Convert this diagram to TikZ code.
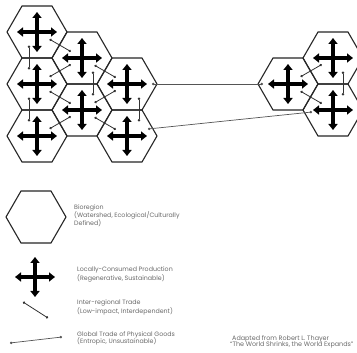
\documentclass[tikz,border=0pt]{standalone}
\usepackage{fontspec}
\setmainfont{Poppins}
\usetikzlibrary{shapes.geometric,arrows.meta,calc}
\definecolor{hexcol}{HTML}{262626}
\definecolor{ircol}{HTML}{333333}
\definecolor{gcol}{HTML}{555555}
\definecolor{txtcol}{HTML}{6A6A6A}
\newcommand\crossat[1]{%
  \draw[crossarm] ($(#1)+(-20,0)$) -- ($(#1)+(20,0)$);
  \draw[crossarm] ($(#1)+(0,-20)$) -- ($(#1)+(0,20)$);}
\begin{document}
\begin{tikzpicture}[x=1pt,y=-1pt,
  hexa/.style={regular polygon, regular polygon sides=6, minimum size=60pt,
    inner sep=0pt, draw=hexcol, line width=1.1pt},
  crossarm/.style={line width=3.3pt, draw=black,
    {Triangle[width=9pt,length=6pt]}-{Triangle[width=9pt,length=6pt]}},
  irline/.style={draw=ircol, line width=0.8pt,
    {Circle[length=2.4pt]}-{Circle[length=2.4pt]}},
  gline/.style={draw=gcol, line width=0.7pt,
    {Circle[length=2.4pt]}-{Circle[length=2.4pt]}},
  lbl/.style={anchor=base west, inner sep=0pt, text=txtcol,
    font=\fontsize{6.3}{7.5}\selectfont},
  credit/.style={anchor=base west, inner sep=0pt, text=txtcol,
    font=\fontsize{6.4}{7.5}\selectfont}]
\fill[white] (0,0) rectangle (357,353);
\useasboundingbox (0,0) rectangle (357,353);
% left cluster
\node[hexa] (h1) at (37,32) {};
\node[hexa] (h2) at (37,84) {};
\node[hexa] (h3) at (37,136) {};
\node[hexa] (h4) at (82,58) {};
\node[hexa] (h5) at (82,110) {};
\node[hexa] (h6) at (127,84) {};
\node[hexa] (h7) at (127,136) {};
% right cluster
\node[hexa] (r1) at (288,84) {};
\node[hexa] (r2) at (333,58) {};
\node[hexa] (r3) at (333,110) {};
% crosses
\foreach \n in {h1,h2,h3,h4,h5,h6,h7,r1,r2,r3} {\crossat{\n}}
% inter-regional trade (diagonal)
\foreach \a/\b in {h1/h4,h2/h4,h2/h5,h3/h5,h4/h6,h5/h6,h5/h7,r1/r2,r1/r3}
  {\draw[irline] ($(\a)!0.28!(\b)$) -- ($(\a)!0.75!(\b)$);}
% inter-regional trade (vertical)
\foreach \a/\b/\o in {h1/h2/-8,h2/h3/-8,h4/h5/11,h6/h7/12,r2/r3/10}
  {\draw[irline] ($(\a)!0.26!(\b)+(\o,0)$) -- ($(\a)!0.72!(\b)+(\o,0)$);}
% global trade
\draw[gline] ($(h6)+(25,0)$) -- ($(r1)+(-25,0)$);
\draw[gline] ($(h7)+(21,-7)$) -- ($(r3)+(-21,2)$);
% legend
\node[hexa] (lh) at (36,217) {};
\node[lbl] (t1) at (74,210) {Bioregion};
\node[lbl] (t2) at (74,218) {(Watershed, Ecological/Culturally};
\node[lbl] (t3) at (74,226) {Defined)};
\coordinate (lc) at (35,277);
\crossat{lc}
\node[lbl] (t4) at (77,272) {Locally-Consumed Production};
\node[lbl] (t5) at (77,280) {(Regenerative, Sustainable)};
\coordinate (la1) at (23,302);
\coordinate (la2) at (48,318);
\draw[irline] (la1) -- (la2);
\node[lbl] (t6) at (77,305) {Inter-regional Trade};
\node[lbl] (t7) at (77,313) {(Low-impact, Interdependent)};
\coordinate (lg1) at (10,343);
\coordinate (lg2) at (62,337);
\draw[gline] (lg1) -- (lg2);
\node[lbl] (t8) at (77,337) {Global Trade of Physical Goods};
\node[lbl] (t9) at (77,344) {(Entropic, Unsustainable)};
\node[credit] (c1) at (232,341) {Adapted from Robert L. Thayer};
\node[credit] (c2) at (230,347) {“The World Shrinks, the World Expands”};
\end{tikzpicture}
\end{document}
